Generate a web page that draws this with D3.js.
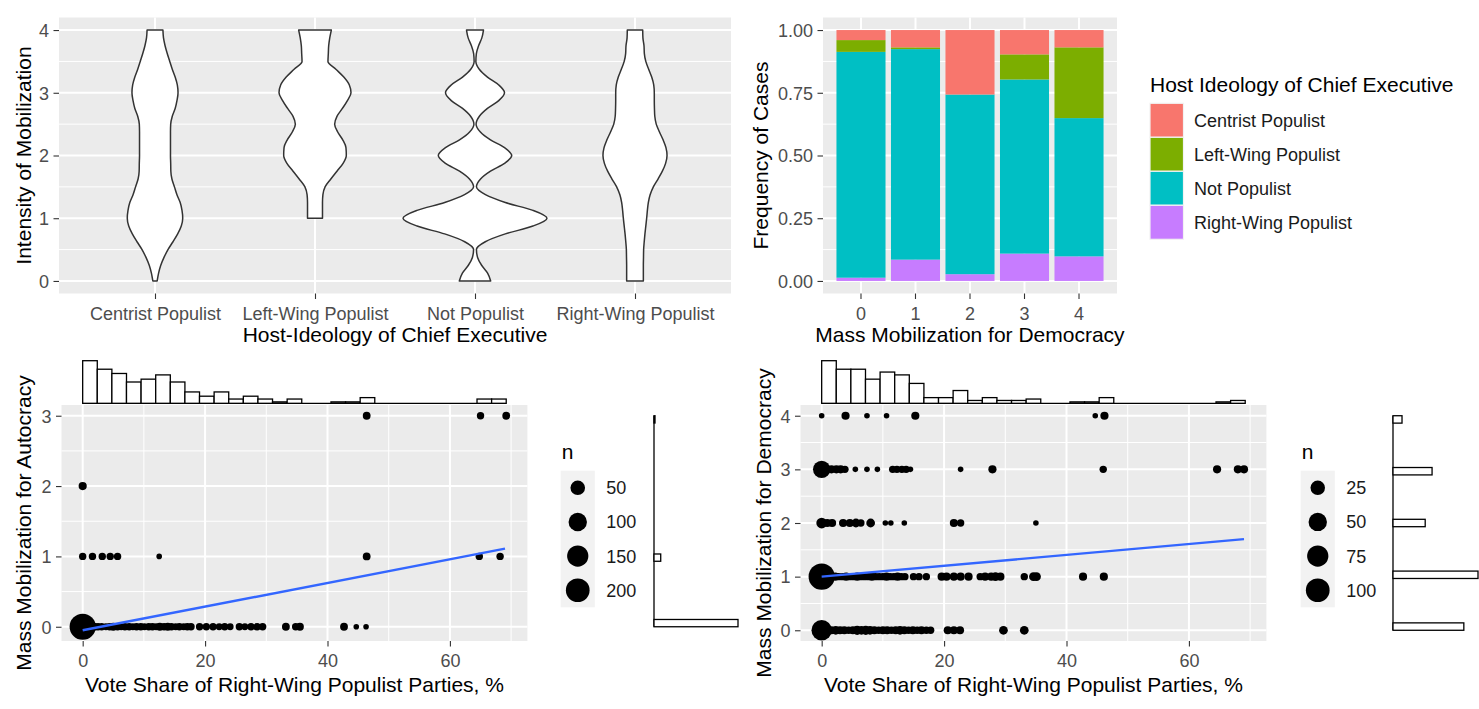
<!DOCTYPE html>
<html><head><meta charset="utf-8">
<script src="https://cdn.jsdelivr.net/npm/d3@7"></script>
<style>
body{margin:0;background:#fff;}
text{font-family:"Liberation Sans",Arial,sans-serif;}
</style></head><body>
<script>
// ---------------- DATA ----------------
const ideologies = ["Centrist Populist","Left-Wing Populist","Not Populist","Right-Wing Populist"];
const ideologyColors = ["#F8766D","#7CAE00","#00BFC4","#C77CFF"];
const intensityTicks = [0,1,2,3,4];
// violin half-width profiles (relative density) read at these intensity levels
const violinLevels = [0,0.125,0.25,0.375,0.5,0.625,0.75,0.875,1,1.125,1.25,1.375,1.5,1.625,1.75,1.875,2,2.125,2.25,2.375,2.5,2.625,2.75,2.875,3,3.125,3.25,3.375,3.5,3.625,3.75,3.875,4];
const violinCentrist = [0.03,0.05,0.08,0.125,0.18,0.25,0.315,0.365,0.385,0.375,0.35,0.305,0.27,0.235,0.22,0.218,0.215,0.215,0.215,0.215,0.218,0.24,0.28,0.305,0.32,0.31,0.28,0.24,0.205,0.17,0.14,0.118,0.11];
const violinLeftWing = [null,null,null,null,null,null,null,null,0.104,0.104,0.104,0.11,0.14,0.22,0.305,0.39,0.435,0.43,0.385,0.315,0.273,0.305,0.38,0.45,0.5,0.477,0.4,0.29,0.18,0.185,0.19,0.205,0.227];
const violinNotPopulist = [0.218,0.175,0.092,0.036,0.02,0.143,0.421,0.805,1.0,0.805,0.421,0.145,0.02,0.077,0.215,0.41,0.51,0.41,0.215,0.075,0.015,0.061,0.173,0.33,0.41,0.33,0.173,0.059,0.012,0.019,0.05,0.095,0.118];
const violinRightWing = [0.116,0.116,0.116,0.118,0.12,0.128,0.138,0.15,0.162,0.172,0.185,0.21,0.255,0.32,0.38,0.425,0.445,0.43,0.39,0.34,0.295,0.275,0.27,0.268,0.268,0.26,0.232,0.19,0.15,0.13,0.125,0.11,0.107];

const mobilizationLevels = ["0","1","2","3","4"];
const shareCentrist    = [0.040,0.069,0.257,0.097,0.069];
const shareLeftWing    = [0.047,0.007,0.000,0.100,0.282];
const shareNotPopulist = [0.900,0.839,0.716,0.694,0.551];
const shareRightWing   = [0.013,0.085,0.027,0.109,0.098];
const shareTicks = [0,0.25,0.5,0.75,1];

const voteTicks = [0,20,40,60];
const voteMax = 69.2;
// [vote share, mobilization level, n]
const autocracyPoints = [
 [0,0,259],[0.6,0,5],[1.2,0,3],[1.9,0,4],[2.5,0,3],[3.1,0,3],[3.8,0,2],[4.4,0,3],[5.0,0,4],[5.7,0,3],[6.3,0,2],[6.9,0,3],[7.6,0,3],[8.2,0,2],[8.8,0,3],[9.5,0,3],[10.1,0,2],[10.8,0,3],[11.4,0,3],[12.0,0,2],[12.6,0,5],[13.3,0,3],[13.9,0,4],[14.5,0,3],[15.2,0,2],[15.8,0,3],[16.5,0,2],[17.1,0,3],[17.7,0,3],
 [19.1,0,3],[20.2,0,3],[21.3,0,3],[22.3,0,2],[23.2,0,3],[24.1,0,2],[25.6,0,3],[26.5,0,2],[27.5,0,3],[28.5,0,3],[29.4,0,3],[33.2,0,4],[34.8,0,3],[35.5,0,4],[42.7,0,4],[44.7,0,1],[46.3,0,1],
 [0,1,3],[1.6,1,3],[3.2,1,3],[4.5,1,3],[5.7,1,3],[12.5,1,1],[46.4,1,4],[64.8,1,3],[68.2,1,3],
 [0,2,5],
 [46.4,3,4],[65.0,3,3],[69.2,3,4]
];
const democracyPoints = [
 [0,0,67],[1.6,0,3],[2.3,0,4],[3.0,0,3],[3.7,0,3],[4.4,0,2],[5.1,0,3],[5.8,0,5],[6.5,0,4],[7.2,0,5],[7.9,0,4],[8.6,0,3],[9.3,0,2],[10.0,0,3],[10.7,0,3],[11.4,0,2],[12.1,0,3],[12.8,0,4],[13.5,0,3],[14.2,0,2],[14.9,0,3],[15.6,0,2],[16.3,0,3],[17.1,0,2],[17.8,0,2],[20.6,0,3],[21.6,0,3],[22.6,0,3],[29.7,0,4],[33.1,0,4],
 [0,1,129],[1.6,1,2],[2.2,1,3],[2.8,1,2],[3.4,1,2],[4.0,1,3],[4.6,1,2],[5.2,1,2],[5.8,1,3],[6.4,1,2],[7.0,1,2],[7.6,1,2],[8.2,1,3],[8.8,1,2],[9.4,1,2],[10.0,1,2],[10.6,1,3],[11.2,1,2],[11.8,1,2],[12.4,1,3],[13.0,1,2],[13.6,1,2],[15.0,1,2],[15.9,1,2],[17.1,1,2],[19.6,1,3],[20.4,1,3],[21.6,1,3],[22.7,1,3],[24.0,1,3],[25.9,1,2],[26.7,1,3],[27.7,1,3],[28.4,1,4],[29.2,1,3],[33.1,1,2],[34.6,1,4],[35.1,1,4],[42.7,1,3],[46.1,1,3],
 [0,2,9],[0.9,2,3],[1.7,2,3],[3.5,2,3],[4.6,2,3],[5.6,2,4],[6.4,2,2],[8.0,2,4],[10.4,2,1],[11.3,2,1],[13.5,2,1],[21.6,2,3],[22.7,2,2],[35.0,2,1],
 [0,3,43],[1.6,3,3],[2.4,3,3],[3.1,3,3],[3.8,3,2],[5.5,3,1],[7.4,3,1],[9.1,3,1],[11.6,3,2],[12.3,3,2],[13.1,3,2],[13.8,3,2],[14.5,3,1],[22.7,3,1],[27.9,3,3],[46.0,3,2],[64.6,3,3],[68.0,3,3],[69.0,3,3],
 [0,4,1],[3.9,4,3],[7.4,4,1],[10.6,4,1],[15.3,4,3],[44.7,4,1],[46.2,4,3]
];
const autocracyFit = [[0,-0.05],[69.0,1.11]];
const democracyFit = [[0,1.0],[69.0,1.70]];
const autocracyLevels = [0,1,2,3];
const democracyLevels = [0,1,2,3,4];
const autocracyLevelCounts = [250,20,0,3];
const democracyLevelCounts = [165,198,75,91,21];
const autocracyVoteHist = [30,24,21,15,17,20,15,8,5,8,3,5,3,1,3,0,0,1,1,4,0,0,0,0,0,0,0,3,3];
const democracyVoteHist = [30,24,24,17,22,20,14,4,4,9,2,4,2,2,3,0,0,1,1,4,0,0,0,0,0,0,0,1,2];
const autocracySizeBreaks = [50,100,150,200];
const democracySizeBreaks = [25,50,75,100];

// ---------------- DRAWING ----------------
const FONT = '"Liberation Sans", Arial, sans-serif';
const svg = d3.select("body").append("svg").attr("width",1479).attr("height",709);
svg.append("rect").attr("width",1479).attr("height",709).attr("fill","#fff");

function panel(x0,x1,y0,y1,vMajor,vMinor,hMajor,hMinor){
  const g = svg.append("g");
  g.append("rect").attr("x",x0).attr("y",y0).attr("width",x1-x0).attr("height",y1-y0).attr("fill","#EBEBEB");
  vMinor.forEach(x=>g.append("line").attr("x1",x).attr("x2",x).attr("y1",y0).attr("y2",y1).attr("stroke","#fff").attr("stroke-width",1));
  hMinor.forEach(y=>g.append("line").attr("x1",x0).attr("x2",x1).attr("y1",y).attr("y2",y).attr("stroke","#fff").attr("stroke-width",1));
  vMajor.forEach(x=>g.append("line").attr("x1",x).attr("x2",x).attr("y1",y0).attr("y2",y1).attr("stroke","#fff").attr("stroke-width",2));
  hMajor.forEach(y=>g.append("line").attr("x1",x0).attr("x2",x1).attr("y1",y).attr("y2",y).attr("stroke","#fff").attr("stroke-width",2));
  return g;
}
function styleAxis(g){
  g.attr("font-size",18).attr("font-family",FONT);
  g.select(".domain").remove();
  g.selectAll(".tick line").attr("stroke","#333333").attr("stroke-width",1.1);
  g.selectAll(".tick text").attr("fill","#4D4D4D");
}
function leftAxis(scale,ticks,x,fmt){
  const a = d3.axisLeft(scale).tickValues(ticks).tickSize(5.5).tickPadding(4.5).tickFormat(fmt || d3.format("d"));
  const g = svg.append("g").attr("transform",`translate(${x},0)`).call(a);
  styleAxis(g); g.selectAll(".tick text").attr("dy","0.35em");
}
function bottomAxis(scale,ticks,y){
  const a = d3.axisBottom(scale).tickSize(5.5).tickPadding(7.9);
  if(ticks) a.tickValues(ticks).tickFormat(d3.format("d"));
  const g = svg.append("g").attr("transform",`translate(0,${y})`).call(a);
  styleAxis(g);
}
function title(txt,x,y,rot,anchor){
  const t = svg.append("text").text(txt).attr("font-size",21).attr("fill","#000").attr("font-family",FONT)
    .attr("text-anchor",anchor||"middle");
  if(rot) t.attr("transform",`translate(${x},${y}) rotate(-90)`); else t.attr("x",x).attr("y",y);
}

// ===== Panel 1: violins =====
const xV = d3.scalePoint().domain(ideologies).range([59,731]).padding(0.6);
const yV = d3.scaleLinear().domain([-0.2,4.2]).range([293.5,17.5]);
const wV = d3.scaleLinear().domain([0,1]).range([0,0.45*xV.step()]);
panel(59,731,17.5,293.5, ideologies.map(xV), [], intensityTicks.map(yV), [0.5,1.5,2.5,3.5].map(yV));
const violinSeries = [violinCentrist,violinLeftWing,violinNotPopulist,violinRightWing];
ideologies.forEach((name,i)=>{
  const cx = xV(name);
  const pts = violinLevels.map((lv,j)=>({lv, w: violinSeries[i][j]})).filter(d=>d.w!==null);
  const area = d3.area().y(d=>yV(d.lv)).x0(d=>cx-wV(d.w)).x1(d=>cx+wV(d.w)).curve(d3.curveMonotoneY);
  svg.append("path").attr("d",area(pts)).attr("fill","#fff").attr("stroke","#333").attr("stroke-width",1.5).attr("stroke-linejoin","round");
});
leftAxis(yV,intensityTicks,59);
bottomAxis(xV,null,293.5);
title("Host-Ideology of Chief Executive",395,342);
title("Intensity of Mobilization",31,155.5,true);

// ===== Panel 2: stacked bars =====
const xB = d3.scaleBand().domain(mobilizationLevels).range([823,1117]).paddingInner(0.1).paddingOuter(0.247);
const yB = d3.scaleLinear().domain([-0.05,1.05]).range([293.5,17.5]);
panel(823,1117,17.5,293.5, mobilizationLevels.map(d=>xB(d)+xB.bandwidth()/2), [], shareTicks.map(yB), [0.125,0.375,0.625,0.875].map(yB));
const rows = mobilizationLevels.map((lv,i)=>({level:lv, cp:shareCentrist[i], lw:shareLeftWing[i], np:shareNotPopulist[i], rw:shareRightWing[i]}));
const stackKeys = ["rw","np","lw","cp"];
const keyColor = {cp:ideologyColors[0], lw:ideologyColors[1], np:ideologyColors[2], rw:ideologyColors[3]};
d3.stack().keys(stackKeys)(rows).forEach(layer=>{
  svg.append("g").selectAll("rect").data(layer).join("rect")
    .attr("x",d=>xB(d.data.level)).attr("width",xB.bandwidth())
    .attr("y",d=>yB(d[1])).attr("height",d=>Math.max(0,yB(d[0])-yB(d[1])))
    .attr("fill",keyColor[layer.key]);
});
leftAxis(yB,shareTicks,823,d3.format(".2f"));
bottomAxis(xB,null,293.5);
title("Mass Mobilization for Democracy",970,342);
title("Frequency of Cases",768,155.5,true);
// legend
title("Host Ideology of Chief Executive",1150,91.5,false,"start");
ideologies.forEach((name,i)=>{
  const y0 = 103.3 + i*34;
  svg.append("rect").attr("x",1150).attr("y",y0).attr("width",33.5).attr("height",34).attr("fill",ideologyColors[i]).attr("stroke","#F2F2F2").attr("stroke-width",1.2);
  svg.append("text").text(name).attr("x",1194).attr("y",y0+17+6.5).attr("font-size",18).attr("fill","#1a1a1a").attr("font-family",FONT);
});

// ===== Scatter panels =====
function scatter(cfg){
  const {x0,x1,y0,y1,yDomain,levels,points,fit,hist,levelCounts,sizeBreaks,yTitle,ticksY,margX,legendX,nMax} = cfg;
  const xS = d3.scaleLinear().domain([-0.05*voteMax, voteMax*1.05]).range([x0,x1]);
  const yS = d3.scaleLinear().domain(yDomain).range([y1,y0]);
  const halfs = levels.slice(0,-1).map(v=>v+0.5);
  panel(x0,x1,y0,y1, voteTicks.map(xS), [10,30,50,70].map(xS), levels.map(yS), halfs.map(yS));
  const rS = d3.scaleSqrt().domain([0,nMax-1]).range([0,10.3]);
  const r = n => 2.8 + rS(n-1);
  svg.append("g").selectAll("circle").data(points).join("circle")
    .attr("cx",d=>xS(d[0])).attr("cy",d=>yS(d[1])).attr("r",d=>r(d[2])).attr("fill","#000");
  const line = d3.line().x(d=>xS(d[0])).y(d=>yS(d[1]));
  svg.append("path").attr("d",line(fit)).attr("stroke","#3366FF").attr("stroke-width",2.4).attr("fill","none");
  leftAxis(yS,ticksY,x0);
  bottomAxis(xS,voteTicks,y1);
  title("Vote Share of Right-Wing Populist Parties, %",(x0+x1)/2,692);
  title(yTitle,cfg.yTitleX,523,true);
  // top marginal histogram
  const bw = voteMax/hist.length;
  const hY = d3.scaleLinear().domain([0,30]).range([403.3,360.7]);
  svg.append("line").attr("x1",xS(0)).attr("x2",xS(voteMax)).attr("y1",hY(0)).attr("y2",hY(0)).attr("stroke","#000").attr("stroke-width",1.3);
  svg.append("g").selectAll("rect").data(hist.map((c,i)=>({c,i})).filter(d=>d.c>0)).join("rect")
    .attr("x",d=>xS(d.i*bw)).attr("width",d=>xS((d.i+1)*bw)-xS(d.i*bw))
    .attr("y",d=>hY(d.c)).attr("height",d=>hY(0)-hY(d.c))
    .attr("fill","#fff").attr("stroke","#000").attr("stroke-width",1.3);
  // right marginal histogram
  const yMax = levels[levels.length-1];
  const bwy = yMax/29;
  const cS = d3.scaleLinear().domain([0,d3.max(levelCounts)]).range([0,cfg.margW]);
  svg.append("line").attr("x1",margX).attr("x2",margX).attr("y1",yS(0)).attr("y2",yS(yMax)).attr("stroke","#000").attr("stroke-width",1.3);
  svg.append("g").selectAll("rect").data(levels.map((lv,i)=>({lv,c:levelCounts[i]})).filter(d=>d.c>0)).join("rect")
    .attr("x",margX).attr("width",d=>cS(d.c))
    .attr("y",d=>{const k=Math.min(Math.floor(d.lv/bwy+1e-9),28); return yS((k+1)*bwy);})
    .attr("height",d=>{const k=Math.min(Math.floor(d.lv/bwy+1e-9),28); return yS(k*bwy)-yS((k+1)*bwy);})
    .attr("fill","#fff").attr("stroke","#000").attr("stroke-width",1.3);
  // size legend
  title("n",legendX+1,459,false,"start");
  svg.append("rect").attr("x",legendX).attr("y",470.7).attr("width",34.1).attr("height",34.15*4).attr("fill","#F2F2F2");
  sizeBreaks.forEach((b,i)=>{
    const cy = 470.7 + 17.1 + i*34.15;
    svg.append("circle").attr("cx",legendX+17.05).attr("cy",cy).attr("r",r(b)).attr("fill","#000");
    svg.append("text").text(b).attr("x",legendX+45.5).attr("y",cy+6.5).attr("font-size",18).attr("fill","#1a1a1a").attr("font-family",FONT);
  });
}
scatter({x0:61.5,x1:527.4,y0:405,y1:641,yDomain:[-0.2025,3.1525],levels:autocracyLevels,ticksY:autocracyLevels,
  points:autocracyPoints,fit:autocracyFit,hist:autocracyVoteHist,levelCounts:autocracyLevelCounts,margX:654,margW:84,
  sizeBreaks:autocracySizeBreaks,yTitle:"Mass Mobilization for Autocracy",yTitleX:31,legendX:560.7,nMax:259});
scatter({x0:800.5,x1:1266.4,y0:405,y1:641,yDomain:[-0.2,4.2],levels:democracyLevels,ticksY:democracyLevels,
  points:democracyPoints,fit:democracyFit,hist:democracyVoteHist,levelCounts:democracyLevelCounts,margX:1393,margW:85,
  sizeBreaks:democracySizeBreaks,yTitle:"Mass Mobilization for Democracy",yTitleX:771,legendX:1300.7,nMax:129});
</script>
</body></html>
